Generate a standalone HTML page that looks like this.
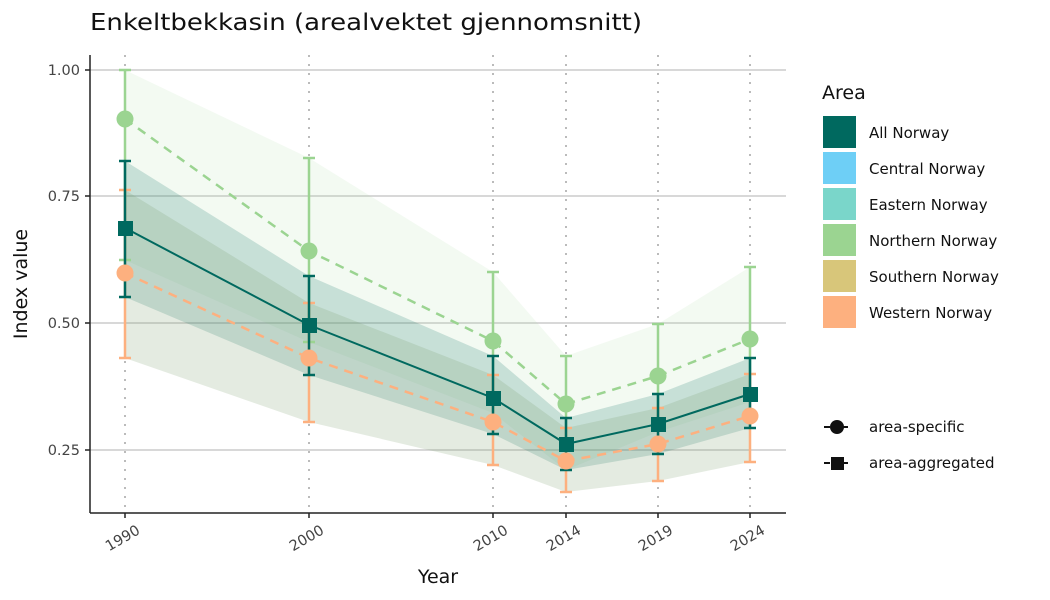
<!DOCTYPE html>
<html><head><meta charset="utf-8"><style>body{margin:0;background:#fff}svg{display:block;font-family:"DejaVu Sans","Liberation Sans",sans-serif}</style></head><body>
<svg width="1050" height="600" viewBox="0 0 1050 600" xmlns="http://www.w3.org/2000/svg">
<rect width="1050" height="600" fill="#fff"/>
<text x="90" y="30" font-size="23" fill="#111" textLength="552" lengthAdjust="spacingAndGlyphs">Enkeltbekkasin (arealvektet gjennomsnitt)</text>
<g stroke="#cccccc" stroke-width="1.5">
<line x1="90" x2="786" y1="70" y2="70"/><line x1="90" x2="786" y1="196" y2="196"/><line x1="90" x2="786" y1="323" y2="323"/><line x1="90" x2="786" y1="450" y2="450"/>
</g>
<g stroke="#bbbbbb" stroke-width="2" stroke-dasharray="2,7">
<line x1="125" x2="125" y1="55" y2="513"/><line x1="309" x2="309" y1="55" y2="513"/><line x1="493" x2="493" y1="55" y2="513"/><line x1="566" x2="566" y1="55" y2="513"/><line x1="658" x2="658" y1="55" y2="513"/><line x1="750" x2="750" y1="55" y2="513"/>
</g>
<polygon fill="#9bd491" fill-opacity="0.12" points="125,70 309,158 493,272 566,356 658,324 750,267 750,402 658,432 566,470 493,413 309,342 125,260"/>
<polygon fill="#006a60" fill-opacity="0.18" points="125,161 309,276 493,356 566,418 658,394 750,358 750,428 658,454 566,470 493,434 309,375 125,297"/>
<polygon fill="#7a9a6a" fill-opacity="0.2" points="125,190 309,303 493,375 566,428 658,408 750,374 750,462 658,481 566,492 493,465 309,422 125,358"/>
<g stroke="#9bd491" stroke-width="2.5">
<path d="M125,70V260M309,158V342M493,272V413M566,356V450M658,324V432M750,267V402"/>
<path d="M119,70h12M303,158h12M487,272h12M560,356h12M652,324h12M744,267h12M119,260h12M303,342h12"/>
</g>
<g stroke="#fdb07f" stroke-width="2.5">
<path d="M125,190V358M309,303V422M493,375V465M566,428V492M658,408V481M750,374V462"/>
<path d="M119,190h12M303,303h12M487,375h12M560,428h12M652,408h12M744,374h12M119,358h12M303,422h12M487,465h12M560,492h12M652,481h12M744,462h12"/>
</g>
<g stroke="#00695f" stroke-width="2.5">
<path d="M125,161V297M309,276V375M493,356V434M566,418V470M658,394V454M750,358V428"/>
<path d="M119,161h12M303,276h12M487,356h12M560,418h12M652,394h12M744,358h12M119,297h12M303,375h12M487,434h12M560,470h12M652,454h12M744,428h12"/>
</g>
<polyline fill="none" stroke="#9bd491" stroke-width="2.5" stroke-dasharray="9,7" points="125,119 309,251 493,341 566,404 658,376 750,339"/>
<polyline fill="none" stroke="#fdb07f" stroke-width="2.5" stroke-dasharray="9,7" points="125,273 309,358 493,422 566,461 658,444 750,416"/>
<polyline fill="none" stroke="#00695f" stroke-width="2" points="125,228 309,325 493,398 566,444 658,424 750,394"/>
<g fill="#9bd491"><circle cx="125" cy="119" r="8.5"/><circle cx="309" cy="251" r="8.5"/><circle cx="493" cy="341" r="8.5"/><circle cx="566" cy="404" r="8.5"/><circle cx="658" cy="376" r="8.5"/><circle cx="750" cy="339" r="8.5"/></g>
<g fill="#fdb07f"><circle cx="125" cy="273" r="8.5"/><circle cx="309" cy="358" r="8.5"/><circle cx="493" cy="422" r="8.5"/><circle cx="566" cy="461" r="8.5"/><circle cx="658" cy="444" r="8.5"/><circle cx="750" cy="416" r="8.5"/></g>
<g fill="#00695f"><rect x="118" y="221" width="15" height="15"/><rect x="302" y="318" width="15" height="15"/><rect x="486" y="391" width="15" height="15"/><rect x="559" y="437" width="15" height="15"/><rect x="651" y="417" width="15" height="15"/><rect x="743" y="387" width="15" height="15"/></g>
<g stroke="#222" stroke-width="1.5"><line x1="90" x2="90" y1="55" y2="513"/><line x1="90" x2="786" y1="513" y2="513"/>
<path d="M85,70h5M85,196h5M85,323h5M85,450h5M125,513v5M309,513v5M493,513v5M566,513v5M658,513v5M750,513v5"/></g>
<g font-size="14.5" fill="#444" text-anchor="end"><text x="80" y="75">1.00</text><text x="80" y="201">0.75</text><text x="80" y="328">0.50</text><text x="80" y="455">0.25</text></g>
<g font-size="14.5" fill="#444" text-anchor="end">
<text transform="translate(141,533) rotate(-30)">1990</text><text transform="translate(325,533) rotate(-30)">2000</text><text transform="translate(509,533) rotate(-30)">2010</text><text transform="translate(582,533) rotate(-30)">2014</text><text transform="translate(674,533) rotate(-30)">2019</text><text transform="translate(766,533) rotate(-30)">2024</text></g>
<text x="438" y="583" font-size="19" text-anchor="middle" fill="#111">Year</text>
<text transform="translate(27,284) rotate(-90)" font-size="19" text-anchor="middle" fill="#111">Index value</text>
<text x="822" y="99" font-size="19" fill="#111">Area</text>
<g><rect x="823" y="116" width="33" height="32" fill="#00695f"/><rect x="823" y="152" width="33" height="32" fill="#6ecff6"/><rect x="823" y="188" width="33" height="32" fill="#7ad6ca"/><rect x="823" y="224" width="33" height="32" fill="#9bd491"/><rect x="823" y="260" width="33" height="32" fill="#d8c67a"/><rect x="823" y="296" width="33" height="32" fill="#fdb07f"/></g>
<g font-size="15" fill="#111"><text x="869" y="138">All Norway</text><text x="869" y="174">Central Norway</text><text x="869" y="210">Eastern Norway</text><text x="869" y="246">Northern Norway</text><text x="869" y="282">Southern Norway</text><text x="869" y="318">Western Norway</text>
<text x="869" y="432">area-specific</text><text x="869" y="468">area-aggregated</text></g>
<g stroke="#111" stroke-width="2"><line x1="824" x2="850" y1="427" y2="427" stroke-dasharray="6,3"/><line x1="824" x2="850" y1="463" y2="463" stroke-dasharray="6,3"/></g>
<circle cx="837" cy="427" r="7" fill="#111"/><rect x="831" y="457" width="13" height="13" fill="#111"/>
</svg>
</body></html>
